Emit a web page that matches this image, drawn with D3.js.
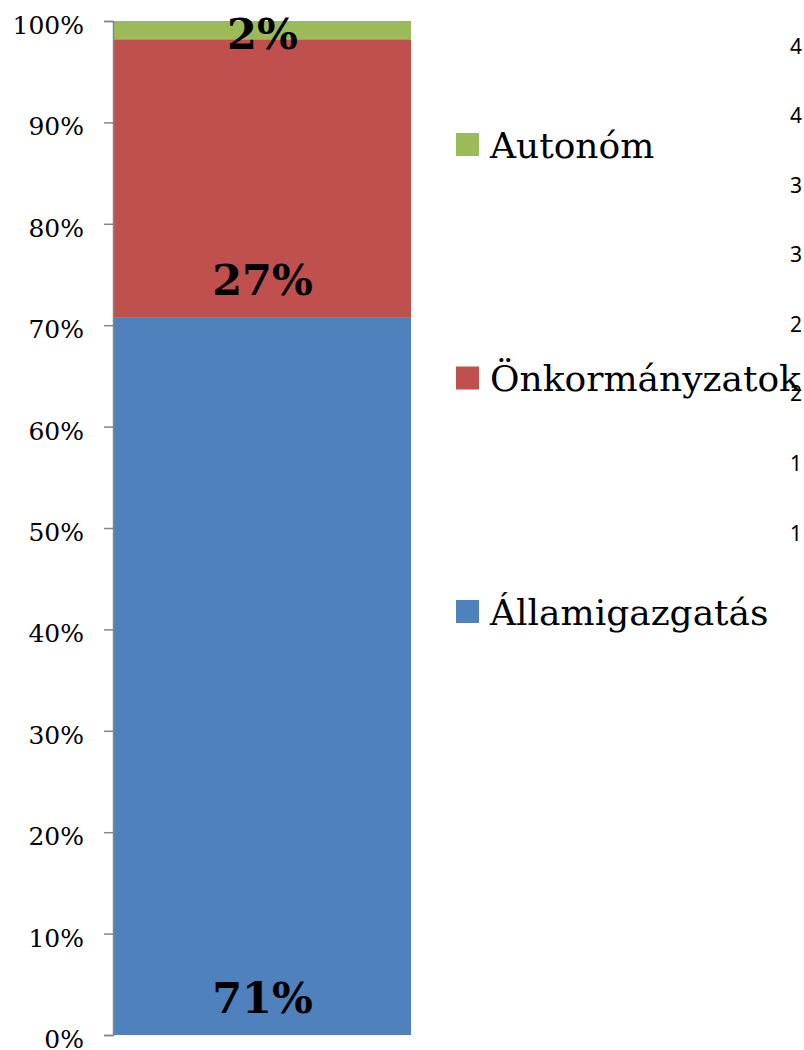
<!DOCTYPE html>
<html lang="hu">
<head>
<meta charset="UTF-8">
<title>Megoszlás</title>
<script src="https://d3js.org/d3.v7.min.js"></script>
<style>
  body { margin: 0; background: #fff; }
  svg { display: block; }
</style>
</head>
<body>
<svg id="chart" width="804" height="1050"></svg>
<script>
// adatok
const categories = ["Államigazgatás", "Önkormányzatok", "Autonóm"];
const values = [70.8, 27.4, 1.8];
const colors = ["#4F81BD", "#C0504D", "#9BBB59"];
const yTicks = [0, 10, 20, 30, 40, 50, 60, 70, 80, 90, 100];
// a jobb szélen levágott másik tengely feliratai
const sideLabels = ["4", "4", "3", "3", "2", "2", "1", "1"];

const svg = d3.select("#chart");

const y = d3.scaleLinear().domain([0, 100]).range([1035, 21]);
const x = d3.scaleBand().domain(["bar"]).range([114, 411]).padding(0);

// halmozott adatok
let acc = 0;
const stacked = values.map((v, i) => {
  const d = { name: categories[i], y0: acc, y1: acc + v, color: colors[i], label: Math.round(v) + "%" };
  acc += v;
  return d;
});

// oszlopok
svg.append("g")
  .selectAll("rect")
  .data(stacked)
  .enter().append("rect")
  .attr("x", x("bar"))
  .attr("width", x.bandwidth())
  .attr("y", d => y(d.y1))
  .attr("height", d => y(d.y0) - y(d.y1))
  .attr("fill", d => d.color);

// y tengely
const axis = svg.append("g")
  .attr("transform", "translate(113,0)")
  .call(d3.axisLeft(y).tickValues(yTicks).tickFormat(d => d + "%").tickSize(9).tickPadding(20));
axis.select(".domain").attr("stroke", "#868686").attr("stroke-width", 1.5);
axis.selectAll(".tick line").attr("stroke", "#868686").attr("stroke-width", 1.5);
axis.selectAll(".tick text")
  .attr("font-family", "DejaVu Serif")
  .attr("font-size", 25)
  .attr("fill", "#000")
  .attr("dy", "0.5em");

// adatfeliratok
svg.append("g")
  .selectAll("text")
  .data(stacked)
  .enter().append("text")
  .attr("x", x("bar") + x.bandwidth() / 2)
  .attr("y", d => Math.max(y(d.y0) - 22, 49))
  .attr("text-anchor", "middle")
  .attr("font-family", "DejaVu Serif")
  .attr("font-weight", "bold")
  .attr("font-size", 43)
  .text(d => d.label);

// jelmagyarázat
const legendY = d3.scalePoint().domain(categories.slice().reverse()).range([144.5, 611.5]);
const legend = svg.append("g")
  .selectAll("g")
  .data(stacked)
  .enter().append("g")
  .attr("transform", d => `translate(456,${legendY(d.name)})`);
legend.append("rect")
  .attr("x", 0).attr("y", -11.5)
  .attr("width", 23).attr("height", 23)
  .attr("fill", d => d.color);
legend.append("text")
  .attr("x", 34)
  .attr("y", 13)
  .attr("font-family", "DejaVu Serif")
  .attr("font-size", 36)
  .attr("fill", "#000")
  .text(d => d.name);

// levágott feliratok a jobb szélen
const sideY = d3.scalePoint().domain(d3.range(sideLabels.length)).range([46, 533]);
svg.append("g")
  .selectAll("text")
  .data(sideLabels)
  .enter().append("text")
  .attr("x", 790)
  .attr("y", (d, i) => sideY(i))
  .attr("dy", "0.36em")
  .style("font-family", "'Noto Sans', sans-serif")
  .style("font-size", "21px")
  .attr("fill", "#000")
  .text(d => d);
</script>
</body>
</html>
